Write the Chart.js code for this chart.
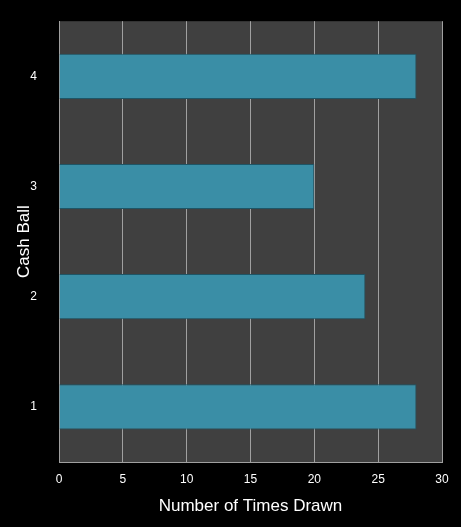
<!DOCTYPE html>
<html><head><script src="https://cdn.jsdelivr.net/npm/chart.js@4"></script>
<style>html,body{margin:0;background:#000;}#w{width:461px;height:527px;}</style></head>
<body><div id="w"><canvas id="c"></canvas></div>
<script>
const categories = ["1","2","3","4"];
const values = [28,24,20,28];
const xTicks = [0,5,10,15,20,25,30];
const bg = {id:'bg',beforeDraw(c){const a=c.chartArea,x=c.ctx;x.save();x.fillStyle='#404040';x.fillRect(a.left,a.top,a.right-a.left,a.bottom-a.top);x.restore();}};
new Chart(document.getElementById('c'),{
type:'bar',
data:{labels:categories,datasets:[{data:values,backgroundColor:'#3a8ea6',borderColor:'#1e5566',borderWidth:1,categoryPercentage:1,barPercentage:0.41}]},
options:{indexAxis:'y',responsive:true,maintainAspectRatio:false,animation:false,
layout:{padding:{top:4,right:19,bottom:0,left:0}},
plugins:{legend:{display:false},tooltip:{enabled:false}},
scales:{
x:{min:0,max:30,afterBuildTicks(s){s.ticks=xTicks.map(v=>({value:v}));},afterFit(s){s.height=65;},
grid:{color:'#a0a0a0',drawTicks:false},border:{color:'#a0a0a0'},
ticks:{color:'#fff',font:{family:'Liberation Sans',size:12},padding:10},
title:{display:true,text:'Number of Times Drawn',color:'#fff',font:{family:'Liberation Sans',size:17},padding:{top:6,bottom:10}}},
y:{reverse:true,afterFit(s){s.width=59;},grid:{display:false},border:{color:'#a0a0a0'},
ticks:{color:'#fff',font:{family:'Liberation Sans',size:12},padding:14},
title:{display:true,text:'Cash Ball',color:'#fff',font:{family:'Liberation Sans',size:17},padding:{top:14,bottom:0}}}
}},plugins:[bg]});
</script></body></html>
